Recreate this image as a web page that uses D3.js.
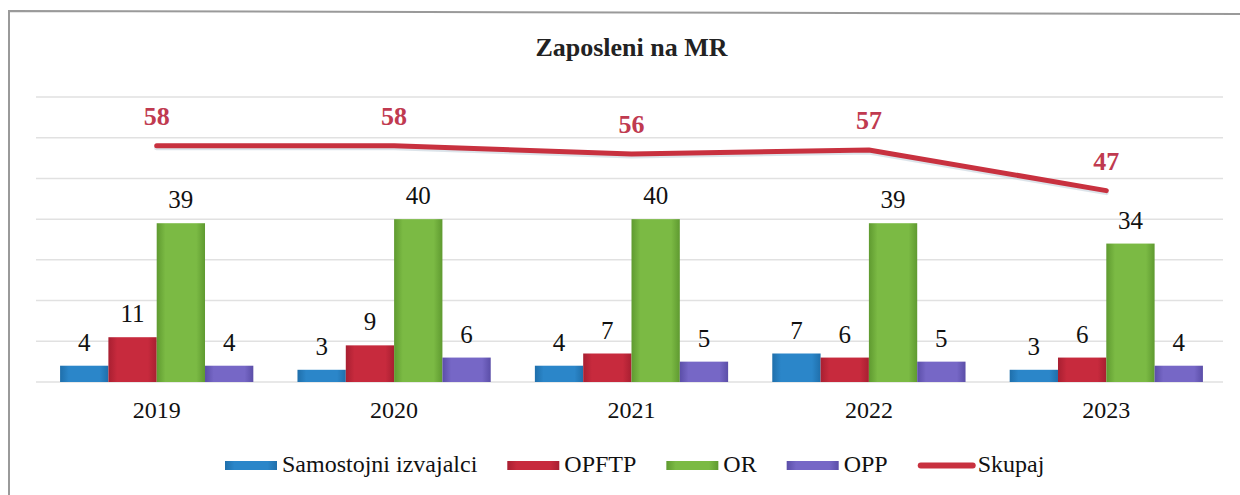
<!DOCTYPE html>
<html>
<head>
<meta charset="utf-8">
<script src="https://cdn.jsdelivr.net/npm/d3@7"></script>
<style>
  html, body { margin: 0; padding: 0; background: #fff; font-family: "Liberation Serif", serif; }
  svg { display: block; }
  svg text { font-family: "Liberation Serif", serif !important; }
</style>
</head>
<body>
<svg id="chart" width="1240" height="495"></svg>
<script>
const years = ["2019", "2020", "2021", "2022", "2023"];
const seriesNames = ["Samostojni izvajalci", "OPFTP", "OR", "OPP"];
const samostojni = [4, 3, 4, 7, 3];
const opftp = [11, 9, 7, 6, 6];
const orVals = [39, 40, 40, 39, 34];
const opp = [4, 6, 5, 5, 4];
const skupaj = [58, 58, 56, 57, 47];
const lineName = "Skupaj";
const gridTicks = [0, 10, 20, 30, 40, 50, 60, 70];
const title = "Zaposleni na MR";

const barSeries = [samostojni, opftp, orVals, opp];
const colors = ["#2b86c9", "#c72a3d", "#7bba44", "#7667c6"];
const edgeColors = ["#1f6fab", "#a81f31", "#5f9a30", "#5b4ea8"];
const lineColor = "#c8313f";
const lineLabelColor = "#c03a50";
const FONT = "Liberation Serif";

const svg = d3.select("#chart");

function txt(sel) {
  return sel.attr("font-family", FONT).style("font-family", '"Liberation Serif", serif');
}

// frame (left + top visible)
svg.append("path")
  .attr("d", "M9,500 L9,11 L1250,14")
  .attr("fill", "none").attr("stroke", "#9a9a9a").attr("stroke-width", 2);

// gradients for bars
const defs = svg.append("defs");
colors.forEach((c, i) => {
  const g = defs.append("linearGradient").attr("id", "g" + i)
    .attr("x1", "0").attr("x2", "1").attr("y1", "0").attr("y2", "0");
  g.append("stop").attr("offset", "0%").attr("stop-color", edgeColors[i]);
  g.append("stop").attr("offset", "18%").attr("stop-color", c);
  g.append("stop").attr("offset", "82%").attr("stop-color", c);
  g.append("stop").attr("offset", "100%").attr("stop-color", edgeColors[i]);
});

const x0 = d3.scaleBand().domain(years).range([38, 1225]).padding(0);
const bw = x0.bandwidth();
const x1 = d3.scaleBand().domain(seriesNames).range([bw * 0.093, bw * 0.907]).padding(0);
const y = d3.scaleLinear().domain([0, 70]).range([382, 97]);

// gridlines
svg.append("g").selectAll("line").data(gridTicks).join("line")
  .attr("x1", 36).attr("x2", 1223)
  .attr("y1", d => y(d)).attr("y2", d => y(d))
  .attr("stroke", "#e1e1e1").attr("stroke-width", 1.5);

// title
txt(svg.append("text"))
  .attr("x", (x0.range()[0] + x0.range()[1]) / 2).attr("y", 56)
  .attr("text-anchor", "middle")
  .attr("font-size", 26).attr("font-weight", "bold").attr("fill", "#222")
  .text(title);

// bars
const gBars = svg.append("g");
barSeries.forEach((vals, si) => {
  gBars.append("g").selectAll("rect").data(vals).join("rect")
    .attr("x", (d, i) => x0(years[i]) + x1(seriesNames[si]))
    .attr("width", x1.bandwidth())
    .attr("y", d => y(d))
    .attr("height", d => y(0) - y(d))
    .attr("fill", `url(#g${si})`);
  txt(gBars.append("g").selectAll("text").data(vals).join("text"))
    .attr("x", (d, i) => x0(years[i]) + x1(seriesNames[si]) + x1.bandwidth() / 2)
    .attr("y", d => y(d) - 15)
    .attr("text-anchor", "middle")
    .attr("font-size", 25).attr("fill", "#111")
    .text(d => d);
});

// line
const line = d3.line()
  .x((d, i) => x0(years[i]) + bw / 2)
  .y(d => y(d));
svg.append("path").datum(skupaj)
  .attr("d", line)
  .attr("fill", "none").attr("stroke", "#b9c9d6").attr("stroke-width", 5)
  .attr("stroke-linecap", "round").attr("stroke-linejoin", "round")
  .attr("transform", "translate(0,2)").attr("opacity", 0.5);
svg.append("path").datum(skupaj)
  .attr("d", line)
  .attr("fill", "none").attr("stroke", lineColor).attr("stroke-width", 5)
  .attr("stroke-linecap", "round").attr("stroke-linejoin", "round");
txt(svg.append("g").selectAll("text").data(skupaj).join("text"))
  .attr("x", (d, i) => x0(years[i]) + bw / 2)
  .attr("y", d => y(d) - 21)
  .attr("text-anchor", "middle")
  .attr("font-size", 26).attr("font-weight", "bold").attr("fill", lineLabelColor)
  .text(d => d);

// category labels
txt(svg.append("g").selectAll("text").data(years).join("text"))
  .attr("x", d => x0(d) + bw / 2)
  .attr("y", 418)
  .attr("text-anchor", "middle")
  .attr("font-size", 24).attr("fill", "#111")
  .text(d => d);

// legend
const legend = svg.append("g");
let lx = 225;
const ly = 472;
const items = seriesNames.map((n, i) => ({ name: n, type: "bar", i }))
  .concat([{ name: lineName, type: "line" }]);
items.forEach(it => {
  if (it.type === "bar") {
    legend.append("rect").attr("x", lx).attr("y", 461).attr("width", 52).attr("height", 9)
      .attr("fill", `url(#g${it.i})`);
    lx += 57;
  } else {
    legend.append("line").attr("x1", lx + 3).attr("x2", lx + 55)
      .attr("y1", 465.5).attr("y2", 465.5)
      .attr("stroke", lineColor).attr("stroke-width", 6).attr("stroke-linecap", "round");
    lx += 60;
  }
  const t = txt(legend.append("text")).attr("x", lx).attr("y", ly)
    .attr("font-size", 24).attr("fill", "#111").text(it.name);
  lx += t.node().getComputedTextLength() + 30;
});
</script>
</body>
</html>
